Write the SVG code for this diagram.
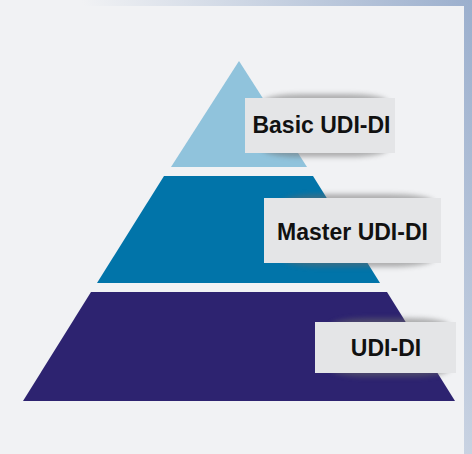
<svg xmlns="http://www.w3.org/2000/svg" width="472" height="454" viewBox="0 0 472 454">
  <defs>
    <linearGradient id="bg" x1="0.3" y1="0.3" x2="1" y2="0">
      <stop offset="0" stop-color="#f1f2f4"/>
      <stop offset="1" stop-color="#9bafcd"/>
    </linearGradient>
    <filter id="blur" x="-20%" y="-50%" width="140%" height="200%">
      <feGaussianBlur stdDeviation="2.5"/>
    </filter>
  </defs>
  <style>
    .label { font-family: "Liberation Sans", Arial, sans-serif; font-weight: bold; font-size: 23px; fill: #111111; text-anchor: middle; }
    .box { fill: #e4e5e7; }
    .shadow { fill: #6a6a6a; opacity: 0.5; filter: url(#blur); }
  </style>
  <rect x="0" y="0" width="472" height="454" fill="url(#bg)"/>
  <rect x="0" y="6" width="464" height="448" fill="#f1f2f4"/>

  <g id="tier-bottom">
    <polygon points="91,292 387,292 455,401 23,401" fill="#2d2370"/>
  </g>
  <g id="tier-middle">
    <polygon points="164,176 313,176 380,283 97,283" fill="#0174a9"/>
  </g>
  <g id="tier-top">
    <polygon points="239,61 307,167 171,167" fill="#90c3dc"/>
  </g>

  <g id="label-basic">
    <rect class="shadow" x="262" y="94" width="126" height="63" rx="40" ry="8"/>
    <rect class="box" x="245" y="98" width="150" height="55"/>
    <text class="label" x="321.5" y="133" font-size="23.5">Basic UDI-DI</text>
  </g>
  <g id="label-master">
    <rect class="shadow" x="282" y="194" width="152" height="73" rx="45" ry="8"/>
    <rect class="box" x="264" y="198" width="177" height="65"/>
    <text class="label" x="352.5" y="239.5">Master UDI-DI</text>
  </g>
  <g id="label-udi">
    <rect class="shadow" x="330" y="318" width="120" height="59" rx="40" ry="8"/>
    <rect class="box" x="315" y="322" width="141" height="51"/>
    <text class="label" x="386" y="356">UDI-DI</text>
  </g>
</svg>
